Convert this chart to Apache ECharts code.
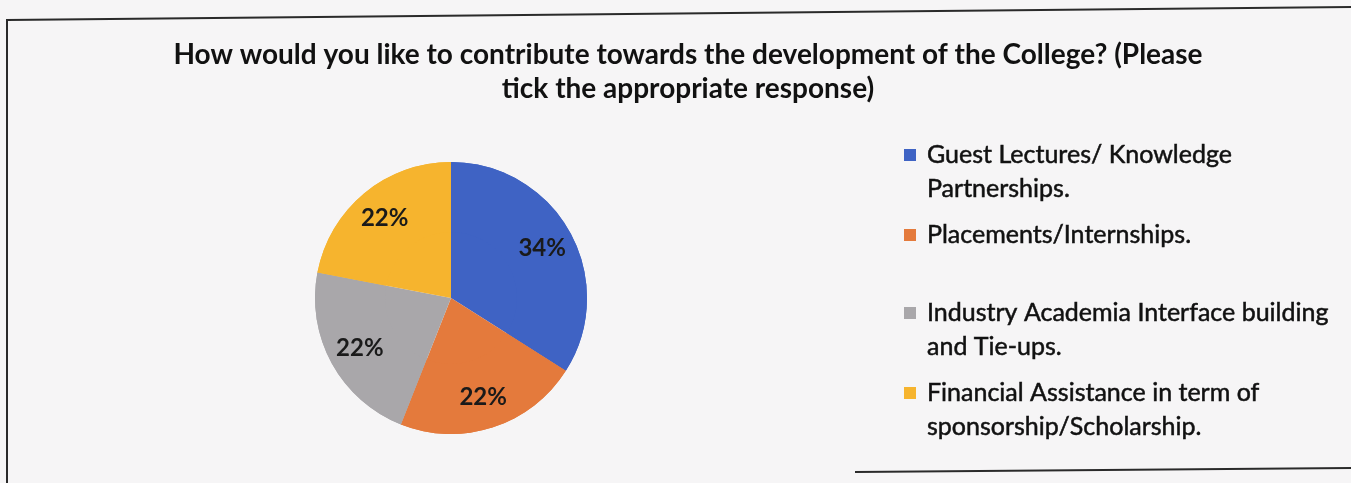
<!DOCTYPE html>
<html><head><meta charset="utf-8">
<script src="https://cdn.jsdelivr.net/npm/echarts@6/dist/echarts.min.js"></script>
<style>html,body{margin:0;padding:0;background:#f6f5f6;}#c{width:1351px;height:483px;}</style>
</head><body><div id="c"></div>
<script>
const categories = [
  "Guest Lectures/ Knowledge\nPartnerships.",
  "Placements/Internships.",
  "Industry Academia Interface building\nand Tie-ups.",
  "Financial Assistance in term of\nsponsorship/Scholarship."
];
const values = [34, 22, 22, 22];
const colors = ["#3f63c4", "#e47a3c", "#a9a7aa", "#f6b42e"];
const titleText = "How would you like to contribute towards the development of the College? (Please\ntick the appropriate response)";

const chart = echarts.init(document.getElementById('c'));
const data = categories.map((n, i) => ({ name: n, value: values[i], itemStyle: { color: colors[i] } }));
const LH = 34;
const legendFirstLineY = [155, 235, 313, 393];
const font = "Lato, 'Open Sans', sans-serif";
chart.setOption({
  backgroundColor: "#f6f5f6",
  title: {
    text: titleText, left: 683, top: 33, textAlign: 'center',
    textStyle: { fontFamily: font, fontWeight: 'bold', fontSize: 28, lineHeight: 34, color: '#111' }
  },
  legend: categories.map((n, i) => {
    const multi = n.indexOf('\n') >= 0;
    return {
      data: [n], left: 904, top: legendFirstLineY[i] - LH / 2 - (multi ? LH : 0), orient: 'vertical',
      icon: 'rect', itemWidth: 12, itemHeight: 12, itemGap: 0, padding: 0,
      formatter: name => (name.indexOf('\n') >= 0 ? '\u00a0\n' : '') + name,
      textStyle: { fontFamily: font, fontSize: 25, lineHeight: LH, color: '#111', padding: [0, 0, 0, 6],
        textBorderColor: '#111', textBorderWidth: 0.5 },
      selectedMode: false
    };
  }),
  series: [
    {
      type: 'pie', center: [451, 298], radius: 136, startAngle: 90, clockwise: true,
      data: data, label: { show: false }, labelLine: { show: false }, silent: true
    },
    {
      type: 'pie', center: [451, 298], radius: [66, 136], startAngle: 90, clockwise: true,
      data: data, silent: true,
      label: { show: true, position: 'inside', formatter: p => p.value + '%',
        fontFamily: font, fontWeight: 'bold', fontSize: 24, color: '#1a1a1a' },
      labelLine: { show: false }
    }
  ],
  graphic: [
    { type: 'polyline', shape: { points: [[7, 483], [7, 20], [1351, 7]] }, style: { stroke: '#2a2a2a', lineWidth: 2, fill: null } },
    { type: 'line', shape: { x1: 855, y1: 472, x2: 1351, y2: 468 }, style: { stroke: '#2a2a2a', lineWidth: 2 } }
  ]
});
</script></body></html>
